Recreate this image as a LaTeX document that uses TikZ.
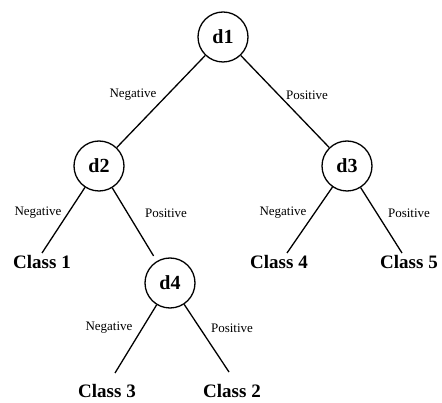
\documentclass[tikz,border=0pt]{standalone}
\usepackage{fontspec}
\setmainfont{Liberation Serif}
\begin{document}
\begin{tikzpicture}[x=1pt,y=-1pt,
  dnode/.style={circle,draw,line width=1.3pt,minimum size=50pt,inner sep=0pt,font=\fontsize{20}{22}\selectfont\bfseries},
  cls/.style={inner sep=0pt,font=\fontsize{19}{21}\selectfont\bfseries},
  elab/.style={inner sep=0pt,font=\fontsize{13}{15}\selectfont},
  conn/.style={line width=1.3pt}]
\useasboundingbox (0,0) rectangle (442,403);
\node[dnode] (d1) at (223,37) {d1};
\node[dnode] (d2) at (99,166) {d2};
\node[dnode] (d3) at (347,166) {d3};
\node[dnode] (d4) at (170,283) {d4};
\node[cls] (c1) at (42,262) {Class 1};
\node[cls] (c4) at (279,262) {Class 4};
\node[cls] (c5) at (409,262) {Class 5};
\node[cls] (c3) at (107,391) {Class 3};
\node[cls] (c2) at (232,391) {Class 2};
\coordinate (e1) at (42,253);
\coordinate (e4) at (287,253);
\coordinate (e5) at (402,253);
\coordinate (e3) at (115,373);
\coordinate (e2) at (229,372);
\draw[conn] (d1) -- (d2);
\draw[conn] (d1) -- (d3);
\draw[conn] (d2) -- (e1);
\draw[conn,shorten >=6pt] (d2) -- (d4);
\draw[conn] (d3) -- (e4);
\draw[conn] (d3) -- (e5);
\draw[conn] (d4) -- (e3);
\draw[conn] (d4) -- (e2);
\node[elab] (l1) at (133,95) {Negative};
\node[elab] (l2) at (307,95) {Positive};
\node[elab] (l3) at (38,213) {Negative};
\node[elab] (l4) at (166,213) {Positive};
\node[elab] (l5) at (283,213) {Negative};
\node[elab] (l6) at (409,213) {Positive};
\node[elab] (l7) at (109,328) {Negative};
\node[elab] (l8) at (232,328) {Positive};
\end{tikzpicture}
\end{document}
